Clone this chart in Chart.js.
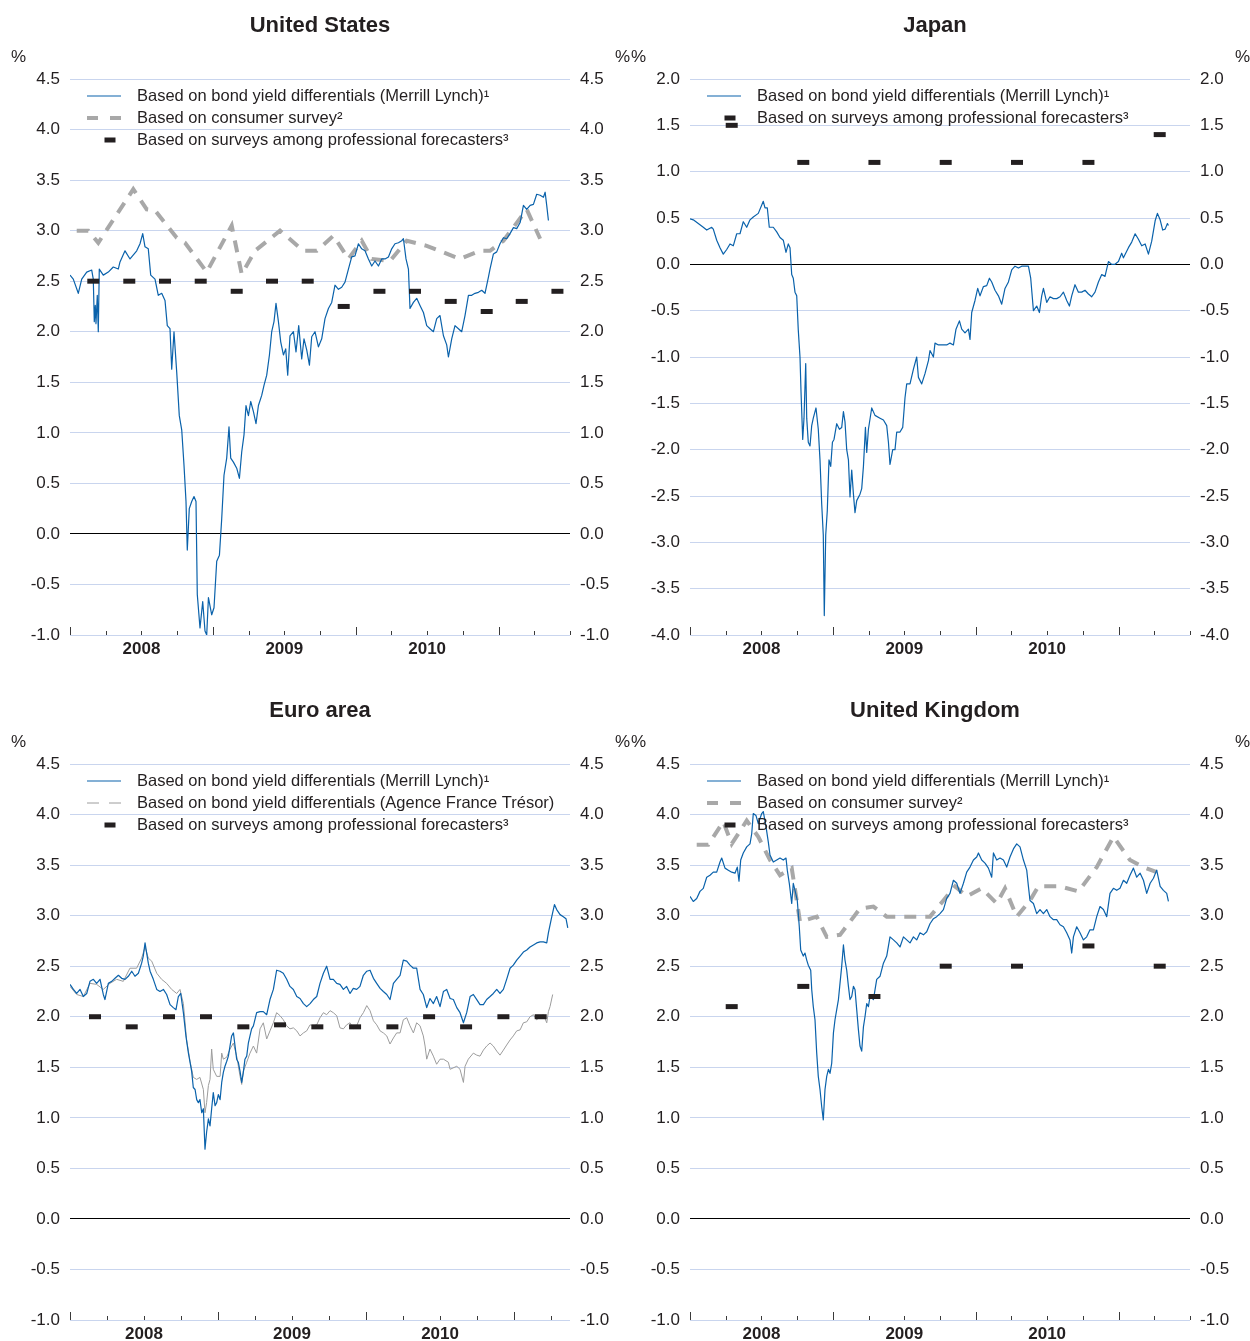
<!DOCTYPE html>
<html><head><meta charset="utf-8">
<script src="https://cdn.jsdelivr.net/npm/chart.js@4.4.1/dist/chart.umd.min.js"></script>
<style>
html,body{margin:0;padding:0;background:#fff;}
body{width:1250px;height:1341px;position:relative;overflow:hidden;}
canvas{position:absolute;}
</style></head><body>
<canvas id="cUS" width="640" height="685" style="left:0;top:0"></canvas>
<canvas id="cJP" width="630" height="685" style="left:620px;top:0"></canvas>
<canvas id="cEA" width="640" height="685" style="left:0;top:685px"></canvas>
<canvas id="cUK" width="630" height="685" style="left:620px;top:685px"></canvas>
<script>
// ---------------- DATA (decimal year, %) ----------------
const yearLabels = [2008, 2009, 2010];

const usBond = [[2008.000,2.56],[2008.023,2.52],[2008.058,2.38],[2008.082,2.52],[2008.117,2.59],[2008.152,2.61],[2008.163,2.52],[2008.170,2.10],[2008.177,2.26],[2008.182,2.08],[2008.191,2.36],[2008.198,2.00],[2008.205,2.62],[2008.233,2.56],[2008.268,2.59],[2008.303,2.64],[2008.338,2.62],[2008.350,2.69],[2008.385,2.80],[2008.420,2.72],[2008.432,2.74],[2008.467,2.80],[2008.490,2.87],[2008.509,2.97],[2008.525,2.84],[2008.548,2.82],[2008.565,2.56],[2008.595,2.52],[2008.618,2.36],[2008.642,2.38],[2008.665,2.31],[2008.681,2.06],[2008.700,2.03],[2008.712,1.63],[2008.728,2.00],[2008.747,1.60],[2008.765,1.17],[2008.782,1.03],[2008.798,0.68],[2008.812,0.32],[2008.821,-0.16],[2008.835,0.25],[2008.852,0.32],[2008.868,0.37],[2008.882,0.32],[2008.891,-0.60],[2008.910,-0.93],[2008.929,-0.67],[2008.945,-0.96],[2008.957,-1.00],[2008.969,-0.63],[2008.992,-0.80],[2009.008,-0.73],[2009.027,-0.27],[2009.046,-0.21],[2009.062,0.15],[2009.078,0.58],[2009.097,0.75],[2009.113,1.06],[2009.125,0.75],[2009.144,0.71],[2009.167,0.65],[2009.186,0.55],[2009.202,0.81],[2009.218,0.98],[2009.232,1.27],[2009.249,1.17],[2009.265,1.31],[2009.284,1.21],[2009.302,1.09],[2009.319,1.27],[2009.342,1.37],[2009.358,1.47],[2009.377,1.57],[2009.396,1.77],[2009.412,2.00],[2009.428,2.10],[2009.442,2.28],[2009.459,2.10],[2009.475,1.90],[2009.494,1.77],[2009.510,1.83],[2009.524,1.57],[2009.540,1.96],[2009.564,2.00],[2009.582,1.80],[2009.601,2.06],[2009.622,1.73],[2009.638,1.93],[2009.657,1.82],[2009.676,1.67],[2009.692,1.95],[2009.715,2.00],[2009.739,1.85],[2009.762,1.93],[2009.785,2.13],[2009.809,2.23],[2009.832,2.29],[2009.855,2.46],[2009.879,2.42],[2009.902,2.44],[2009.925,2.49],[2009.949,2.62],[2009.972,2.74],[2009.995,2.75],[2010.019,2.87],[2010.042,2.82],[2010.065,2.80],[2010.089,2.72],[2010.112,2.65],[2010.135,2.70],[2010.159,2.65],[2010.182,2.72],[2010.205,2.72],[2010.229,2.74],[2010.252,2.82],[2010.275,2.87],[2010.299,2.88],[2010.322,2.90],[2010.334,2.92],[2010.352,2.72],[2010.369,2.62],[2010.380,2.23],[2010.404,2.29],[2010.427,2.33],[2010.450,2.26],[2010.474,2.19],[2010.497,2.06],[2010.520,2.03],[2010.544,2.00],[2010.567,2.13],[2010.590,2.16],[2010.614,1.96],[2010.637,1.87],[2010.649,1.75],[2010.672,1.93],[2010.695,2.06],[2010.719,2.03],[2010.742,2.00],[2010.765,2.16],[2010.789,2.36],[2010.812,2.36],[2010.835,2.38],[2010.859,2.39],[2010.882,2.41],[2010.905,2.38],[2010.929,2.54],[2010.940,2.62],[2010.964,2.77],[2010.987,2.79],[2011.010,2.87],[2011.034,2.93],[2011.057,2.92],[2011.080,2.97],[2011.104,3.03],[2011.127,3.02],[2011.151,3.08],[2011.174,3.25],[2011.197,3.21],[2011.221,3.25],[2011.244,3.26],[2011.267,3.36],[2011.291,3.35],[2011.314,3.33],[2011.326,3.38],[2011.337,3.25],[2011.349,3.10]];
const usConsumer = [[2008.047,3.00],[2008.128,3.00],[2008.198,2.88],[2008.443,3.41],[2008.537,3.21],[2008.595,3.20],[2008.747,2.93],[2008.805,2.88],[2008.957,2.59],[2009.132,3.05],[2009.202,2.57],[2009.295,2.80],[2009.470,3.00],[2009.634,2.80],[2009.727,2.80],[2009.844,2.95],[2009.949,2.72],[2010.042,2.90],[2010.112,2.72],[2010.240,2.70],[2010.357,2.90],[2010.497,2.85],[2010.730,2.72],[2010.870,2.80],[2010.940,2.80],[2011.034,2.90],[2011.197,3.21],[2011.291,2.92]];
const usSurvey = [[2008.163,2.50],[2008.415,2.50],[2008.665,2.50],[2008.915,2.50],[2009.167,2.40],[2009.414,2.50],[2009.664,2.50],[2009.916,2.25],[2010.166,2.40],[2010.415,2.40],[2010.665,2.30],[2010.917,2.20],[2011.162,2.30],[2011.412,2.40]];

const jpBond = [[2008.000,0.49],[2008.023,0.48],[2008.058,0.44],[2008.093,0.40],[2008.117,0.37],[2008.152,0.40],[2008.163,0.38],[2008.187,0.26],[2008.210,0.18],[2008.233,0.11],[2008.257,0.16],[2008.280,0.22],[2008.303,0.20],[2008.327,0.33],[2008.350,0.33],[2008.373,0.46],[2008.397,0.40],[2008.420,0.48],[2008.443,0.51],[2008.478,0.55],[2008.513,0.68],[2008.525,0.61],[2008.541,0.61],[2008.555,0.40],[2008.583,0.40],[2008.607,0.35],[2008.630,0.29],[2008.653,0.26],[2008.672,0.13],[2008.688,0.22],[2008.700,0.18],[2008.712,-0.11],[2008.723,-0.15],[2008.735,-0.30],[2008.747,-0.34],[2008.758,-0.71],[2008.770,-1.00],[2008.777,-1.37],[2008.789,-1.89],[2008.798,-1.66],[2008.810,-1.07],[2008.817,-1.66],[2008.828,-1.92],[2008.840,-1.96],[2008.852,-1.74],[2008.863,-1.66],[2008.882,-1.55],[2008.898,-1.78],[2008.910,-2.11],[2008.922,-2.59],[2008.933,-2.92],[2008.940,-3.79],[2008.950,-2.92],[2008.961,-2.66],[2008.973,-2.11],[2008.985,-2.18],[2008.997,-1.92],[2009.008,-1.89],[2009.027,-1.72],[2009.046,-1.78],[2009.062,-1.76],[2009.074,-1.59],[2009.085,-1.70],[2009.097,-2.00],[2009.109,-2.11],[2009.120,-2.51],[2009.132,-2.22],[2009.144,-2.48],[2009.155,-2.68],[2009.167,-2.55],[2009.190,-2.48],[2009.202,-2.42],[2009.214,-2.18],[2009.228,-1.76],[2009.237,-2.03],[2009.249,-1.78],[2009.272,-1.55],[2009.295,-1.63],[2009.330,-1.66],[2009.354,-1.68],[2009.377,-1.74],[2009.389,-1.92],[2009.400,-2.16],[2009.419,-2.00],[2009.435,-2.00],[2009.447,-1.81],[2009.470,-1.81],[2009.489,-1.76],[2009.505,-1.44],[2009.517,-1.29],[2009.540,-1.29],[2009.564,-1.13],[2009.587,-1.00],[2009.599,-1.22],[2009.622,-1.29],[2009.645,-1.18],[2009.669,-1.04],[2009.680,-0.93],[2009.704,-1.00],[2009.715,-0.85],[2009.739,-0.87],[2009.774,-0.87],[2009.797,-0.87],[2009.820,-0.85],[2009.844,-0.87],[2009.862,-0.70],[2009.886,-0.61],[2009.902,-0.70],[2009.925,-0.74],[2009.949,-0.70],[2009.960,-0.81],[2009.972,-0.52],[2009.995,-0.39],[2010.014,-0.26],[2010.030,-0.34],[2010.054,-0.24],[2010.077,-0.23],[2010.096,-0.15],[2010.112,-0.19],[2010.135,-0.28],[2010.159,-0.34],[2010.182,-0.43],[2010.205,-0.26],[2010.229,-0.19],[2010.252,-0.06],[2010.275,-0.02],[2010.299,-0.04],[2010.322,-0.02],[2010.345,-0.02],[2010.369,-0.02],[2010.385,-0.15],[2010.404,-0.50],[2010.427,-0.45],[2010.446,-0.52],[2010.462,-0.34],[2010.474,-0.26],[2010.497,-0.41],[2010.520,-0.35],[2010.544,-0.37],[2010.567,-0.37],[2010.590,-0.35],[2010.614,-0.30],[2010.637,-0.39],[2010.656,-0.45],[2010.672,-0.34],[2010.695,-0.22],[2010.719,-0.30],[2010.742,-0.30],[2010.765,-0.28],[2010.789,-0.32],[2010.812,-0.35],[2010.835,-0.30],[2010.859,-0.19],[2010.882,-0.11],[2010.905,-0.13],[2010.929,0.03],[2010.952,0.00],[2010.975,0.00],[2010.999,0.03],[2011.022,0.12],[2011.034,0.07],[2011.069,0.18],[2011.092,0.24],[2011.116,0.33],[2011.139,0.27],[2011.162,0.20],[2011.186,0.22],[2011.209,0.11],[2011.232,0.25],[2011.256,0.47],[2011.272,0.55],[2011.291,0.48],[2011.309,0.37],[2011.326,0.38],[2011.342,0.44],[2011.349,0.42]];
const jpSurvey = [[2008.292,1.50],[2008.793,1.10],[2009.291,1.10],[2009.790,1.10],[2010.289,1.10],[2010.789,1.10],[2011.288,1.40]];

const eaBond = [[2008.000,2.32],[2008.023,2.27],[2008.045,2.23],[2008.068,2.27],[2008.090,2.20],[2008.113,2.23],[2008.135,2.35],[2008.158,2.37],[2008.180,2.33],[2008.203,2.37],[2008.225,2.22],[2008.236,2.17],[2008.259,2.33],[2008.282,2.35],[2008.304,2.38],[2008.327,2.41],[2008.349,2.38],[2008.372,2.37],[2008.394,2.40],[2008.417,2.45],[2008.439,2.40],[2008.462,2.43],[2008.484,2.53],[2008.495,2.60],[2008.507,2.73],[2008.518,2.63],[2008.529,2.53],[2008.541,2.45],[2008.563,2.37],[2008.586,2.27],[2008.608,2.25],[2008.631,2.27],[2008.653,2.22],[2008.676,2.12],[2008.698,2.09],[2008.716,2.07],[2008.732,2.20],[2008.748,2.23],[2008.766,2.04],[2008.784,1.80],[2008.800,1.64],[2008.822,1.46],[2008.833,1.30],[2008.845,1.28],[2008.856,1.18],[2008.867,1.15],[2008.878,1.18],[2008.890,1.05],[2008.901,1.09],[2008.912,0.69],[2008.923,0.86],[2008.935,0.99],[2008.946,0.92],[2008.957,1.09],[2008.968,1.25],[2008.980,1.12],[2008.991,1.15],[2009.002,1.23],[2009.014,1.18],[2009.025,1.35],[2009.036,1.45],[2009.047,1.51],[2009.059,1.56],[2009.070,1.61],[2009.081,1.71],[2009.092,1.81],[2009.104,1.84],[2009.115,1.71],[2009.126,1.58],[2009.137,1.55],[2009.149,1.46],[2009.160,1.35],[2009.171,1.45],[2009.182,1.58],[2009.194,1.61],[2009.205,1.74],[2009.216,1.81],[2009.227,1.88],[2009.239,1.91],[2009.261,2.04],[2009.284,2.05],[2009.306,2.05],[2009.329,2.02],[2009.351,2.17],[2009.374,2.27],[2009.396,2.46],[2009.419,2.45],[2009.441,2.43],[2009.464,2.37],[2009.486,2.30],[2009.509,2.27],[2009.532,2.20],[2009.554,2.18],[2009.577,2.13],[2009.599,2.10],[2009.622,2.13],[2009.644,2.17],[2009.667,2.20],[2009.689,2.33],[2009.712,2.43],[2009.734,2.50],[2009.757,2.37],[2009.779,2.37],[2009.802,2.33],[2009.824,2.32],[2009.847,2.27],[2009.869,2.30],[2009.892,2.23],[2009.914,2.28],[2009.937,2.27],[2009.959,2.30],[2009.982,2.41],[2010.005,2.45],[2010.027,2.46],[2010.050,2.38],[2010.072,2.33],[2010.095,2.28],[2010.117,2.25],[2010.140,2.22],[2010.162,2.17],[2010.185,2.33],[2010.207,2.37],[2010.230,2.41],[2010.252,2.56],[2010.275,2.55],[2010.297,2.51],[2010.320,2.48],[2010.342,2.48],[2010.365,2.27],[2010.387,2.22],[2010.410,2.09],[2010.432,2.18],[2010.455,2.13],[2010.477,2.20],[2010.500,2.10],[2010.523,2.25],[2010.545,2.27],[2010.568,2.18],[2010.590,2.17],[2010.613,2.09],[2010.635,2.04],[2010.658,1.94],[2010.680,2.04],[2010.703,2.20],[2010.725,2.22],[2010.748,2.17],[2010.770,2.12],[2010.793,2.12],[2010.815,2.17],[2010.838,2.20],[2010.860,2.23],[2010.883,2.27],[2010.905,2.23],[2010.928,2.27],[2010.950,2.37],[2010.973,2.48],[2010.995,2.51],[2011.018,2.56],[2011.041,2.60],[2011.063,2.64],[2011.086,2.66],[2011.108,2.69],[2011.131,2.71],[2011.153,2.73],[2011.176,2.74],[2011.198,2.74],[2011.221,2.73],[2011.232,2.83],[2011.255,2.99],[2011.273,3.11],[2011.288,3.06],[2011.311,3.01],[2011.333,2.99],[2011.351,2.97],[2011.363,2.88]];
const eaAFT = [[2008.000,2.30],[2008.045,2.22],[2008.090,2.20],[2008.135,2.33],[2008.180,2.32],[2008.225,2.27],[2008.270,2.33],[2008.315,2.37],[2008.360,2.35],[2008.405,2.48],[2008.450,2.48],[2008.484,2.58],[2008.507,2.69],[2008.529,2.58],[2008.552,2.55],[2008.586,2.43],[2008.619,2.37],[2008.653,2.33],[2008.687,2.27],[2008.721,2.23],[2008.743,2.27],[2008.766,2.13],[2008.788,1.77],[2008.811,1.56],[2008.822,1.48],[2008.833,1.40],[2008.856,1.38],[2008.878,1.40],[2008.901,1.28],[2008.912,1.05],[2008.923,1.15],[2008.935,1.32],[2008.946,1.38],[2008.957,1.68],[2008.968,1.48],[2008.991,1.41],[2009.014,1.41],[2009.025,1.64],[2009.036,1.58],[2009.059,1.60],[2009.081,1.68],[2009.104,1.74],[2009.126,1.61],[2009.149,1.41],[2009.160,1.33],[2009.171,1.46],[2009.194,1.55],[2009.216,1.64],[2009.239,1.71],[2009.261,1.64],[2009.284,1.88],[2009.306,1.94],[2009.329,1.78],[2009.351,1.86],[2009.374,1.94],[2009.396,2.04],[2009.419,2.01],[2009.441,1.97],[2009.464,1.91],[2009.486,1.88],[2009.509,1.89],[2009.532,1.86],[2009.554,1.81],[2009.577,1.84],[2009.599,1.86],[2009.622,1.92],[2009.644,1.91],[2009.667,1.92],[2009.689,1.99],[2009.712,2.04],[2009.734,2.02],[2009.757,2.06],[2009.779,2.04],[2009.802,2.01],[2009.824,1.89],[2009.847,1.88],[2009.869,1.92],[2009.892,1.94],[2009.914,1.88],[2009.937,1.91],[2009.959,1.99],[2009.982,2.04],[2010.005,2.11],[2010.027,2.06],[2010.050,1.96],[2010.072,1.92],[2010.095,1.86],[2010.117,1.84],[2010.140,1.81],[2010.162,1.73],[2010.185,1.79],[2010.207,1.84],[2010.230,1.84],[2010.252,1.97],[2010.275,1.99],[2010.297,1.91],[2010.320,1.84],[2010.342,1.94],[2010.365,1.91],[2010.387,1.81],[2010.399,1.71],[2010.410,1.58],[2010.432,1.68],[2010.455,1.61],[2010.477,1.53],[2010.500,1.58],[2010.523,1.58],[2010.556,1.55],[2010.568,1.48],[2010.613,1.51],[2010.635,1.48],[2010.658,1.35],[2010.669,1.51],[2010.691,1.58],[2010.725,1.64],[2010.748,1.62],[2010.770,1.61],[2010.793,1.67],[2010.815,1.71],[2010.838,1.74],[2010.860,1.71],[2010.883,1.66],[2010.905,1.62],[2010.928,1.67],[2010.950,1.72],[2010.973,1.77],[2010.995,1.81],[2011.018,1.86],[2011.041,1.87],[2011.063,1.94],[2011.086,1.95],[2011.108,2.00],[2011.131,2.02],[2011.153,1.97],[2011.176,2.00],[2011.198,2.02],[2011.221,1.94],[2011.232,2.05],[2011.243,2.10],[2011.261,2.22]];
const eaSurvey = [[2008.169,2.00],[2008.417,1.90],[2008.669,2.00],[2008.919,2.00],[2009.171,1.90],[2009.419,1.92],[2009.671,1.90],[2009.926,1.90],[2010.178,1.90],[2010.426,2.00],[2010.676,1.90],[2010.928,2.00],[2011.180,2.00]];

const ukBond = [[2008.000,3.19],[2008.023,3.14],[2008.047,3.17],[2008.070,3.24],[2008.093,3.27],[2008.117,3.38],[2008.140,3.40],[2008.163,3.43],[2008.187,3.43],[2008.210,3.53],[2008.222,3.57],[2008.245,3.47],[2008.268,3.45],[2008.292,3.43],[2008.315,3.42],[2008.331,3.48],[2008.343,3.34],[2008.355,3.55],[2008.373,3.62],[2008.397,3.68],[2008.420,3.71],[2008.432,3.81],[2008.443,4.01],[2008.462,3.99],[2008.478,3.91],[2008.502,4.01],[2008.513,4.03],[2008.532,3.88],[2008.548,3.73],[2008.560,3.60],[2008.583,3.53],[2008.607,3.55],[2008.630,3.57],[2008.653,3.55],[2008.672,3.57],[2008.681,3.45],[2008.695,3.32],[2008.712,3.12],[2008.723,3.32],[2008.735,3.25],[2008.751,3.15],[2008.765,2.89],[2008.775,2.66],[2008.793,2.60],[2008.805,2.63],[2008.817,2.56],[2008.828,2.51],[2008.845,2.46],[2008.852,2.27],[2008.863,2.10],[2008.875,1.97],[2008.887,1.64],[2008.898,1.41],[2008.910,1.28],[2008.922,1.11],[2008.933,0.98],[2008.945,1.28],[2008.957,1.41],[2008.969,1.48],[2008.980,1.44],[2008.992,1.54],[2009.004,1.84],[2009.015,1.97],[2009.027,2.07],[2009.039,2.17],[2009.050,2.33],[2009.062,2.50],[2009.074,2.71],[2009.085,2.56],[2009.097,2.46],[2009.109,2.30],[2009.120,2.17],[2009.132,2.20],[2009.144,2.30],[2009.155,2.27],[2009.167,2.07],[2009.179,1.87],[2009.190,1.71],[2009.202,1.66],[2009.214,1.90],[2009.225,2.00],[2009.237,2.13],[2009.249,2.10],[2009.260,2.20],[2009.284,2.17],[2009.307,2.37],[2009.330,2.40],[2009.354,2.53],[2009.377,2.60],[2009.400,2.79],[2009.424,2.76],[2009.447,2.73],[2009.470,2.69],[2009.494,2.79],[2009.517,2.76],[2009.540,2.73],[2009.564,2.79],[2009.587,2.76],[2009.610,2.83],[2009.634,2.81],[2009.657,2.84],[2009.680,2.92],[2009.704,2.97],[2009.727,2.99],[2009.750,3.02],[2009.774,3.06],[2009.797,3.17],[2009.820,3.22],[2009.844,3.35],[2009.867,3.32],[2009.890,3.22],[2009.914,3.32],[2009.937,3.43],[2009.960,3.48],[2009.984,3.55],[2010.007,3.58],[2010.019,3.62],[2010.042,3.55],[2010.065,3.52],[2010.089,3.47],[2010.112,3.38],[2010.124,3.62],[2010.147,3.55],[2010.170,3.57],[2010.194,3.55],[2010.217,3.48],[2010.240,3.58],[2010.264,3.66],[2010.287,3.71],[2010.310,3.68],[2010.334,3.55],[2010.357,3.45],[2010.369,3.29],[2010.380,3.15],[2010.404,3.12],[2010.427,3.02],[2010.450,3.06],[2010.474,3.02],[2010.497,3.06],[2010.520,2.99],[2010.544,2.96],[2010.567,2.96],[2010.590,2.91],[2010.614,2.89],[2010.637,2.83],[2010.660,2.76],[2010.672,2.63],[2010.684,2.79],[2010.707,2.89],[2010.730,2.83],[2010.754,2.76],[2010.777,2.79],[2010.800,2.86],[2010.824,2.86],[2010.847,2.99],[2010.870,3.09],[2010.894,3.06],[2010.917,2.99],[2010.940,3.22],[2010.964,3.27],[2010.987,3.25],[2011.010,3.27],[2011.034,3.35],[2011.057,3.32],[2011.080,3.40],[2011.104,3.47],[2011.127,3.38],[2011.151,3.42],[2011.174,3.35],[2011.197,3.22],[2011.221,3.32],[2011.244,3.37],[2011.267,3.45],[2011.291,3.29],[2011.314,3.25],[2011.337,3.22],[2011.349,3.14]];
const ukConsumer = [[2008.047,3.70],[2008.128,3.70],[2008.233,3.93],[2008.292,3.71],[2008.397,3.94],[2008.478,3.78],[2008.560,3.55],[2008.630,3.40],[2008.712,3.47],[2008.770,2.94],[2008.887,2.99],[2008.957,2.79],[2009.050,2.81],[2009.190,3.07],[2009.284,3.09],[2009.377,2.99],[2009.680,2.99],[2009.774,3.15],[2009.855,3.29],[2009.937,3.19],[2010.042,3.27],[2010.147,3.12],[2010.205,3.27],[2010.287,2.99],[2010.380,3.15],[2010.439,3.29],[2010.590,3.29],[2010.719,3.24],[2010.847,3.48],[2010.964,3.78],[2011.080,3.55],[2011.174,3.48],[2011.267,3.43]];
const ukSurvey = [[2008.292,2.10],[2008.793,2.30],[2009.291,2.20],[2009.790,2.50],[2010.289,2.50],[2010.789,2.70],[2011.288,2.50]];

// ---------------- STYLE ----------------
const FONT = '"Liberation Sans", Arial, Helvetica, sans-serif';
const INK = '#231f20';
const BLUE = '#0a62ab';
const GREY_DASH = '#a8a8a8';
const GREY_THIN = '#9c9c9c';
const GRID = '#c9d5ee';
Chart.defaults.font.family = FONT;
Chart.defaults.color = INK;

const LBL_ML = 'Based on bond yield differentials (Merrill Lynch)\u00B9';
const LBL_CONS = 'Based on consumer survey\u00B2';
const LBL_AFT = 'Based on bond yield differentials (Agence France Tr\u00E9sor)';
const LBL_SURV = 'Based on surveys among professional forecasters\u00B3';

const pts = a => a.map(p => ({x: p[0], y: p[1]}));

function bondSet(label, arr) {
  return {label, data: pts(arr), borderColor: BLUE, borderWidth: 1.2, pointRadius: 0, tension: 0,
          borderJoinStyle: 'round', order: 1, legendKind: 'line'};
}
function consumerSet(arr) {
  return {label: LBL_CONS, data: pts(arr), borderColor: GREY_DASH, borderWidth: 4, borderDash: [12, 9],
          pointRadius: 0, tension: 0, order: 2, legendKind: 'line', legendDash: [11, 12]};
}
function aftSet(arr) {
  return {label: LBL_AFT, data: pts(arr), borderColor: GREY_THIN, borderWidth: 1, pointRadius: 0, tension: 0,
          order: 2, legendKind: 'line', legendDash: [12, 10]};
}
function surveySet(arr) {
  return {label: LBL_SURV, data: pts(arr), showLine: false, pointStyle: 'line', pointRadius: 6,
          pointHoverRadius: 6, pointBorderWidth: 5, pointBorderColor: INK, pointBackgroundColor: INK,
          borderColor: INK, order: 0, legendKind: 'marker'};
}

// decoration plugin: x tick marks, unit labels, in-plot legend
const panelDecor = {
  id: 'panelDecor',
  afterDatasetsDraw(chart) {
    const {ctx, chartArea: ca, scales} = chart;
    const xs = scales.x;
    ctx.save();
    ctx.strokeStyle = '#3a3a3a';
    ctx.lineWidth = 1;
    xs.ticks.forEach(t => {
      const px = Math.round(xs.getPixelForValue(t.value)) + 0.5;
      const major = Math.abs(t.value - Math.round(t.value)) < 1e-6;
      ctx.beginPath();
      ctx.moveTo(px, ca.bottom);
      ctx.lineTo(px, ca.bottom - (major ? 8 : 4));
      ctx.stroke();
    });
    // unit labels
    ctx.fillStyle = INK;
    ctx.font = '17px ' + FONT;
    ctx.textBaseline = 'middle';
    ctx.textAlign = 'left';
    ctx.fillText('%', ca.left - 59, ca.top - 22);
    ctx.fillText('%', ca.right + 45, ca.top - 22);
    // legend
    ctx.font = '16.5px ' + FONT;
    chart.data.datasets.forEach((ds, i) => {
      const y = ca.top + 17 + 22 * i;
      if (ds.legendKind === 'marker') {
        ctx.fillStyle = ds.pointBorderColor;
        ctx.fillRect(ca.left + 34.5, y - 2.5, 11, 5);
      } else {
        ctx.strokeStyle = ds.borderColor;
        ctx.lineWidth = ds.borderWidth;
        ctx.setLineDash(ds.legendDash || []);
        ctx.beginPath();
        ctx.moveTo(ca.left + 17, y);
        ctx.lineTo(ca.left + 51, y);
        ctx.stroke();
        ctx.setLineDash([]);
      }
      ctx.fillStyle = INK;
      ctx.fillText(ds.label, ca.left + 67, y);
    });
    ctx.restore();
  }
};

function makePanel(id, title, datasets, yMin, yMax, xMax) {
  const cv = document.getElementById(id);
  const W = cv.width;
  const yTicks = {stepSize: 0.5, padding: 10, color: INK, font: {size: 17},
                  callback: v => Number(v).toFixed(1)};
  new Chart(cv, {
    type: 'line',
    data: {datasets},
    options: {
      responsive: false, animation: false, devicePixelRatio: 1,
      events: [],
      layout: {padding: 0},
      plugins: {
        legend: {display: false}, tooltip: {enabled: false},
        title: {display: true, text: title, color: INK,
                font: {size: 22, weight: 'bold', lineHeight: 1},
                padding: {top: 15, bottom: 42}}
      },
      scales: {
        x: {
          type: 'linear', min: 2008, max: xMax,
          afterBuildTicks: s => {
            const t = [];
            for (let v = 2008; v <= xMax + 1e-9; v += 0.25) t.push({value: v});
            s.ticks = t;
          },
          afterFit: s => { s.height = 50; },
          grid: {display: false, drawTicks: false},
          border: {display: false},
          ticks: {autoSkip: false, maxRotation: 0, padding: 4, color: INK,
                  font: {size: 17, weight: 'bold'},
                  callback: v => {
                    const yr = v - 0.5;
                    return yearLabels.some(l => Math.abs(l - yr) < 1e-6) ? String(Math.round(yr)) : '';
                  }}
        },
        y: {
          position: 'left', min: yMin, max: yMax,
          afterFit: s => { s.width = 70; },
          grid: {drawTicks: false, lineWidth: 1,
                 color: c => Math.abs(c.tick.value) < 1e-9 ? '#000000' : GRID},
          border: {display: false},
          ticks: yTicks
        },
        y2: {
          position: 'right', min: yMin, max: yMax,
          afterFit: s => { s.width = W - 570; },
          grid: {display: false, drawTicks: false},
          border: {display: false},
          ticks: yTicks
        }
      }
    },
    plugins: [panelDecor]
  });
}

makePanel('cUS', 'United States',
  [bondSet(LBL_ML, usBond), consumerSet(usConsumer), surveySet(usSurvey)], -1, 4.5, 2011.5);
makePanel('cJP', 'Japan',
  [bondSet(LBL_ML, jpBond), surveySet(jpSurvey)], -4, 2, 2011.5);
makePanel('cEA', 'Euro area',
  [bondSet(LBL_ML, eaBond), aftSet(eaAFT), surveySet(eaSurvey)], -1, 4.5, 2011.378);
makePanel('cUK', 'United Kingdom',
  [bondSet(LBL_ML, ukBond), consumerSet(ukConsumer), surveySet(ukSurvey)], -1, 4.5, 2011.5);
</script>
</body></html>
